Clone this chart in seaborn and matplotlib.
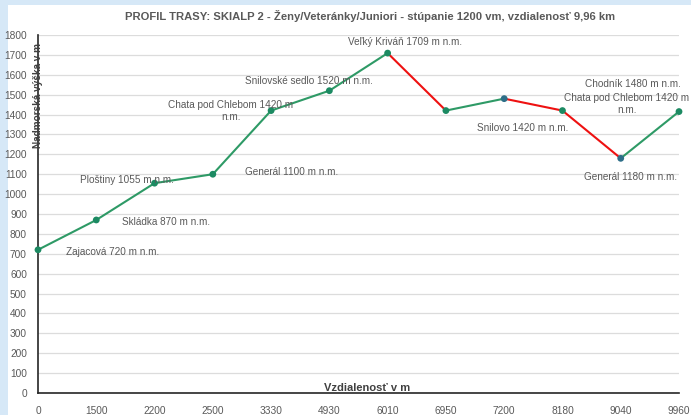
import pandas as pd
import matplotlib.pyplot as plt
import seaborn as sns
from matplotlib.patches import Rectangle

# route profile data
distance = ["0", "1500", "2200", "2500", "3330", "4930", "6010", "6950", "7200", "8180", "9040", "9960"]
elevation = [720, 870, 1055, 1100, 1420, 1520, 1709, 1420, 1480, 1420, 1180, 1415]
# colour of each segment between two points (up = green, down = red)
segment_dir = ["up", "up", "up", "up", "up", "up", "down", "up", "down", "down", "up"]
marker_kind = ["g", "g", "g", "g", "g", "g", "g", "g", "b", "g", "b", "g"]

labels = [
    "Zajacová 720 m n.m.", "Skládka 870 m n.m.", "Ploštiny 1055 m n.m.", "Generál 1100 m n.m.",
    "Chata pod Chlebom 1420 m\nn.m.", "Snilovské sedlo 1520 m n.m.", "Veľký Kriváň 1709 m n.m.",
    "Snilovo 1420 m n.m.", "Chodník 1480 m n.m.", "Chata pod Chlebom 1420 m\nn.m.", "Generál 1180 m n.m.",
]
# label placement (data coords on the category axis) and alignment
label_pos = [(0.48, 709, "left"), (1.44, 860, "left"), (0.72, 1071, "left"), (3.55, 1111, "left"),
             (3.31, 1418, "center"), (3.55, 1569, "left"), (5.32, 1765, "left"), (7.53, 1332, "left"),
             (9.39, 1553, "left"), (10.1, 1455, "center"), (9.37, 1086, "left")]

df = pd.DataFrame({"pos": range(len(distance)), "dist": distance, "elev": elevation})

GREEN = "#2e9a66"
RED = "#ee1111"
seg_colors = {"up": GREEN, "down": RED}
mk_colors = {"g": "#1c8a62", "b": "#2d6e88"}

sns.set_style("white")
plt.rcParams["font.family"] = ["Liberation Sans", "DejaVu Sans"]

fig = plt.figure(figsize=(6.91, 4.15), dpi=100)
fig.patch.set_facecolor("white")
# light blue frame of the original sheet
fig.patches.append(Rectangle((0, 0), 1, 1, transform=fig.transFigure, facecolor="#d6e8f7", edgecolor="none", zorder=-2))
fig.patches.append(Rectangle((8 / 691, 0), 1, 1 - 5 / 415, transform=fig.transFigure, facecolor="white", edgecolor="none", zorder=-1))

ax = fig.add_axes([38 / 691, 22 / 415, 641 / 691, 358 / 415])
ax.set_facecolor("none")

for i, d in enumerate(segment_dir):
    seg = df.iloc[i:i + 2]
    sns.lineplot(data=seg, x="pos", y="elev", color=seg_colors[d], linewidth=1.5, ax=ax, zorder=2)

sns.scatterplot(data=df, x="pos", y="elev", hue=marker_kind, palette=mk_colors, s=24,
                edgecolor="none", legend=False, ax=ax, zorder=3, clip_on=False)

for txt, (x, y, ha) in zip(labels, label_pos):
    ax.text(x, y, txt, ha=ha, va="center", fontsize=7.2, color="#595959", linespacing=1.25)

ax.set_xlim(0, len(distance) - 1)
ax.set_ylim(0, 1800)
ax.set_yticks(range(0, 1801, 100))
ax.set_xticks(df["pos"])
ax.set_xticklabels(distance)
ax.tick_params(axis="both", labelsize=7.3, labelcolor="#595959", length=0)
ax.tick_params(axis="y", pad=8)
ax.tick_params(axis="x", pad=9)
ax.grid(axis="y", color="#dcdcdc", linewidth=0.9)
ax.set_axisbelow(True)
ax.set_xlabel("")
ax.set_ylabel("")
for side in ["top", "right"]:
    ax.spines[side].set_visible(False)
for side in ["left", "bottom"]:
    ax.spines[side].set_color("#262626")
    ax.spines[side].set_linewidth(1.2)

fig.text(370 / 691, 1 - 16 / 415,
         "PROFIL TRASY: SKIALP 2 - Ženy/Veteránky/Juniori - stúpanie 1200 vm, vzdialenosť 9,96 km",
         ha="center", va="center", fontsize=8.1, fontweight="bold", color="#595959")
fig.text(38 / 691, 1 - 96 / 415, "Nadmorská výška v m", rotation=90, ha="center", va="center",
         fontsize=7.2, fontweight="bold", color="#404040")
fig.text(367 / 691, 1 - 388 / 415, "Vzdialenosť v m", ha="center", va="center",
         fontsize=8.0, fontweight="bold", color="#404040")

fig.savefig("out.png", dpi=100)
